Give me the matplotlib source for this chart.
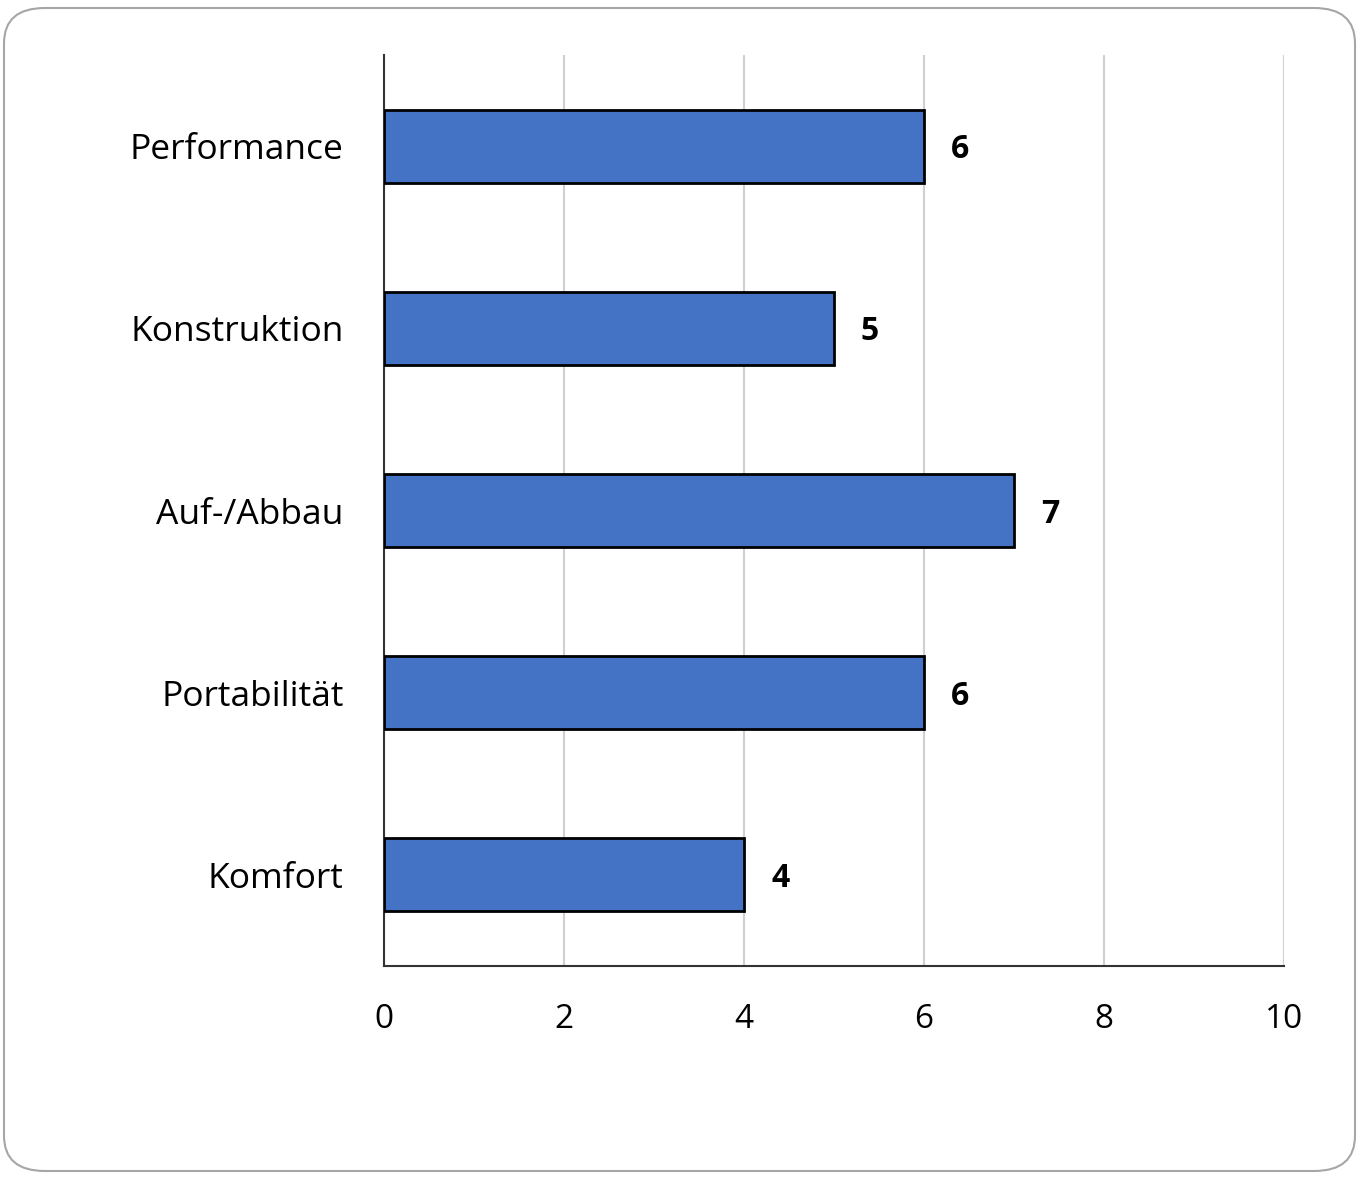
import matplotlib.pyplot as plt
from matplotlib.patches import FancyBboxPatch

categories = ["Performance", "Konstruktion", "Auf-/Abbau", "Portabilität", "Komfort"]
values = [6, 5, 7, 6, 4]
xticks = [0, 2, 4, 6, 8, 10]

plt.rcParams['font.family'] = ['Open Sans', 'DejaVu Sans']

fig = plt.figure(figsize=(13.61, 11.77), dpi=100)
ax = fig.add_axes([384 / 1361, 1 - 966 / 1177, 900 / 1361, 911 / 1177])

# rounded outer frame
frame = FancyBboxPatch((4 / 1361, 6 / 1177), 1351 / 1361, 1163 / 1177,
                       boxstyle="round,pad=0,rounding_size=0.03",
                       transform=fig.transFigure, fill=False,
                       edgecolor='#a6a6a6', linewidth=1.5)
fig.patches.append(frame)

ypos = list(range(len(categories)))
ax.barh(ypos, values, height=0.4, color='#4472c4', edgecolor='black', linewidth=2, zorder=3)

for y, v in zip(ypos, values):
    ax.text(v + 0.3, y + 0.02, str(v), ha='left', va='center',
            fontsize=23, fontweight='bold', color='black')

ax.set_ylim(len(categories) - 0.5, -0.5)
ax.set_xlim(0, 10)
ax.set_xticks(xticks)
ax.set_yticks(ypos)
ax.set_yticklabels(categories)
ax.tick_params(axis='x', length=0, labelsize=24, pad=27)
ax.tick_params(axis='y', length=0, labelsize=25.5, pad=29)

ax.grid(axis='x', color='#d0d0d0', linewidth=1.5, zorder=0)
ax.set_axisbelow(True)

for spine in ['top', 'right']:
    ax.spines[spine].set_visible(False)
ax.spines['left'].set_color('#333333')
ax.spines['bottom'].set_color('#333333')
ax.spines['left'].set_linewidth(1.5)
ax.spines['bottom'].set_linewidth(1.5)

fig.savefig("out.png", dpi=100)
